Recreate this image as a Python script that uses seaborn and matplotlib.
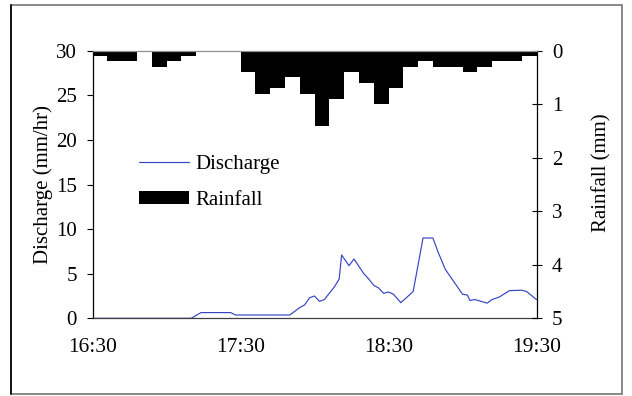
import matplotlib
matplotlib.use("Agg")
import matplotlib.pyplot as plt
from matplotlib.lines import Line2D
from matplotlib.patches import Patch, Rectangle
import pandas as pd
import seaborn as sns

# Rainfall totals per 6-minute interval, starting at 16:30 (minutes after 16:30)
rain_start = list(range(0, 180, 6))
rainfall_mm = [0.1, 0.2, 0.2, 0.0, 0.3, 0.2, 0.1, 0.0, 0.0, 0.0,
               0.4, 0.8, 0.7, 0.5, 0.8, 1.4, 0.9, 0.4, 0.6, 1.0,
               0.7, 0.3, 0.2, 0.3, 0.3, 0.4, 0.3, 0.2, 0.2, 0.1]

# Discharge record (minutes after 16:30, mm/hr)
q_minutes = [0, 40, 44, 56, 58, 80, 84, 86, 88, 90, 92, 94, 96, 98, 100, 101,
             104, 106, 110, 112, 114, 116, 118, 120, 122, 125, 130, 134, 138,
             140, 143, 146, 150, 152, 153, 155, 160, 162, 165, 169, 174, 176, 180]
discharge = [0, 0, 0.64, 0.64, 0.37, 0.37, 1.2, 1.5, 2.3, 2.5, 1.9, 2.1, 2.8,
             3.5, 4.4, 7.1, 5.9, 6.65, 5.0, 4.4, 3.7, 3.4, 2.8, 2.95, 2.7, 1.75,
             3.0, 9.0, 9.0, 7.5, 5.5, 4.3, 2.7, 2.6, 2.0, 2.1, 1.7, 2.1, 2.4,
             3.1, 3.15, 3.0, 2.1]

xticks = [0, 60, 120, 180]
xtick_labels = ["16:30", "17:30", "18:30", "19:30"]
q_ticks = [0, 5, 10, 15, 20, 25, 30]
rain_ticks = [0, 1, 2, 3, 4, 5]

LINE_COLOR = "#3545c4"
FS = 15

sns.set_theme(style="white")
plt.rcParams["font.family"] = ["Liberation Serif", "DejaVu Serif"]
plt.rcParams["font.size"] = FS
plt.rcParams["text.color"] = "black"
plt.rcParams["axes.labelcolor"] = "black"
plt.rcParams["xtick.color"] = "black"
plt.rcParams["ytick.color"] = "black"

fig = plt.figure(figsize=(6.32, 3.96), dpi=100)
ax = fig.add_axes([92.5 / 632, 1 - 318.3 / 396, 444 / 632, 267.6 / 396])

q_df = pd.DataFrame({"minute": q_minutes, "discharge": discharge})
sns.lineplot(data=q_df, x="minute", y="discharge", ax=ax, color=LINE_COLOR,
             linewidth=0.85, estimator=None, sort=False)

# Rainfall hangs from the top on an inverted secondary axis
ax2 = ax.twinx()
rain_df = pd.DataFrame({"mid": [s + 3 for s in rain_start], "rain": rainfall_mm})
edges = rain_start + [180]
sns.histplot(data=rain_df, x="mid", weights="rain", bins=edges, ax=ax2,
             color="black", alpha=1, linewidth=0, element="bars")

ax.set_xlim(0, 180)
ax.set_ylim(0, 30)
ax2.set_ylim(5, 0)

ax.set_xticks(xticks)
ax.set_xticklabels(xtick_labels, fontsize=FS + 0.5)
ax.set_yticks(q_ticks)
ax.set_yticklabels([str(v) for v in q_ticks], fontsize=FS)
ax2.set_yticks(rain_ticks)
ax2.set_yticklabels([str(v) for v in rain_ticks], fontsize=FS)

ax.set_xlabel("")
ax.set_ylabel("Discharge (mm/hr)", fontsize=FS)
ax2.set_ylabel("Rainfall (mm)", fontsize=FS)
ax.yaxis.set_label_coords(-0.088, 0.5)
ax2.yaxis.set_label_coords(1.125, 0.545)

ax.tick_params(axis="y", direction="out", length=4, width=0.8, pad=7.2)
ax.tick_params(axis="x", direction="inout", length=7, width=0.8, pad=11)
ax2.tick_params(axis="y", direction="inout", length=7, width=0.8, pad=7.7)

for a in (ax, ax2):
    for s in a.spines.values():
        s.set_linewidth(0.9)
ax.spines["left"].set_color("black")
ax.spines["bottom"].set_color("#404040")
ax.spines["top"].set_visible(False)
ax.spines["right"].set_visible(False)
ax2.spines["left"].set_visible(False)
ax2.spines["bottom"].set_visible(False)
ax2.spines["right"].set_color("black")
ax2.spines["top"].set_color("#909090")
ax.grid(False)
ax2.grid(False)

handles = [Line2D([], [], color=LINE_COLOR, linewidth=0.85),
           Patch(facecolor="black", edgecolor="none")]
ax2.legend(handles, ["Discharge", "Rainfall"], loc="center left",
           bbox_to_anchor=(0.105, 0.508), frameon=False, fontsize=FS,
           handlelength=2.4, handleheight=0.58, handletextpad=0.29,
           labelspacing=0.85, borderpad=0, borderaxespad=0)

# Outer chart border
fig.add_artist(Rectangle((11 / 632, 1 - 394 / 396), 611 / 632, 389 / 396,
                         transform=fig.transFigure, fill=False,
                         edgecolor="#808080", linewidth=1.3))
fig.add_artist(Line2D([11 / 632, 11 / 632], [1 - 394 / 396, 1 - 5 / 396],
                      transform=fig.transFigure, color="black", linewidth=1.2))

fig.savefig("out.png", dpi=100)
